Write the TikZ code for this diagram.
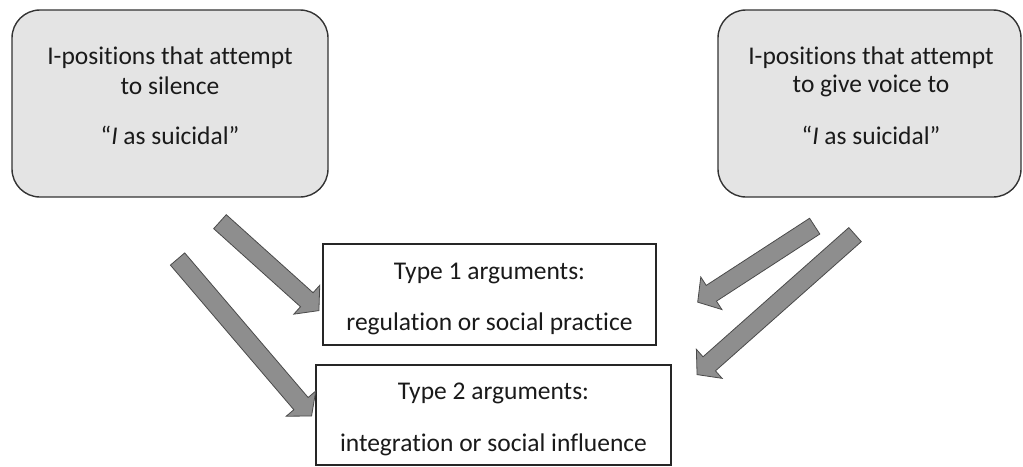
\documentclass[tikz,border=0pt]{standalone}
\usepackage{fontspec}
\setmainfont[Ligatures=NoCommon]{Carlito}
\usetikzlibrary{calc,shapes.arrows}
\definecolor{boxfill}{HTML}{E4E4E4}
\definecolor{boxline}{HTML}{333333}
\definecolor{arrowfill}{HTML}{8E8E8E}
\definecolor{arrowline}{HTML}{4A4A4A}
\definecolor{txt}{HTML}{1A1A1A}
\tikzset{
  ibox/.style={draw=boxline, line width=1.4pt, fill=boxfill, rounded corners=28pt},
  tbox/.style={draw=black!85, line width=1.1pt, fill=white},
  lbl/.style={font=\fontsize{25.5}{30}\selectfont, text=txt, align=center},
  bigarrow/.style={single arrow, draw=arrowline, line width=0.8pt, fill=arrowfill,
    minimum width=38pt, single arrow head extend=10pt, single arrow head indent=0pt,
    single arrow tip angle=100, inner sep=0pt, outer sep=0pt,
    minimum height=10pt}
}
\newcommand{\blockarrow}[2]{%
  \path let \p1=($(#2)-(#1)$), \n1={veclen(\x1,\y1)}, \n2={atan2(\y1,\x1)} in
    node[bigarrow, minimum height=\n1, text width=0pt, rotate=\n2, inner ysep=9pt]
    at ($(#1)!0.5!(#2)$) {};}
\begin{document}
\begin{tikzpicture}[x=1pt,y=-1pt]
\useasboundingbox (0,0) rectangle (1023,466);
% I-position boxes
\draw[ibox] (12,10) rectangle (328,197);
\node[lbl] (l1) at (170,58) {I-positions that attempt};
\node[lbl] (l2) at (170,86) {to silence};
\node[lbl] (l3) at (170,135) {``\textit{I} as suicidal''};
\draw[ibox] (718,10) rectangle (1021,197);
\node[lbl] (r1) at (871,58) {I-positions that attempt};
\node[lbl] (r2) at (871,86) {to give voice to};
\node[lbl] (r3) at (871,135) {``\textit{I} as suicidal''};
% type boxes
\node[tbox, minimum width=333pt, minimum height=101pt] (t1) at (489.5,294.5) {};
\node[lbl] at (489.5,273) {Type 1 arguments:};
\node[lbl] at (489.5,324) {regulation or social practice};
\node[tbox, minimum width=355pt, minimum height=100pt] (t2) at (493.5,415) {};
\node[lbl] at (493.5,393) {Type 2 arguments:};
\node[lbl] at (493.5,445) {integration or social influence};
% arrow end points
\coordinate (a1s) at (217,219);
\coordinate (a1e) at (316,308);
\coordinate (a2s) at (175,256);
\coordinate (a2e) at (309,413);
\coordinate (a3s) at (818,224);
\coordinate (a3e) at (701,300);
\coordinate (a4s) at (858,232);
\coordinate (a4e) at (700,372);
\blockarrow{a1s}{a1e}
\blockarrow{a2s}{a2e}
\blockarrow{a3s}{a3e}
\blockarrow{a4s}{a4e}
\end{tikzpicture}
\end{document}
